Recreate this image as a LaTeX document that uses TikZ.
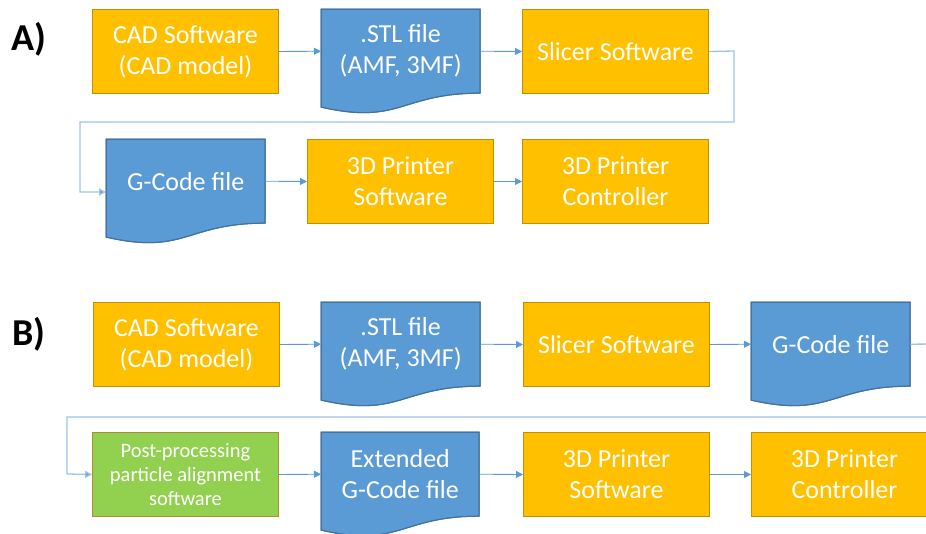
\documentclass[tikz,border=0pt]{standalone}
\usepackage{fontspec}
\setmainfont{Carlito}
\usetikzlibrary{arrows.meta,calc}
\definecolor{orgfill}{HTML}{FFC000}
\definecolor{orgline}{HTML}{BF9000}
\definecolor{bluefill}{HTML}{5B9BD5}
\definecolor{blueline}{HTML}{41719C}
\definecolor{grnfill}{HTML}{92D050}
\definecolor{grnline}{HTML}{B08D2A}
\definecolor{conn}{HTML}{5B9BD5}
\definecolor{retconn}{HTML}{9DC3E6}
\tikzset{
  maintext/.style={text=white, font=\fontsize{26}{31}\selectfont, align=center, inner sep=0pt},
  obox/.style={maintext, draw=orgline, fill=orgfill, line width=1pt, minimum width=186, minimum height=84, anchor=north west},
  gbox/.style={obox, draw=grnline, fill=grnfill, font=\fontsize{20.5}{24}\selectfont},
  docnode/.style={maintext, minimum height=84, anchor=north west},
  docshape/.style={fill=bluefill, draw=blueline, line width=1pt},
  arr/.style={draw=conn, line width=0.9pt, -{Triangle[length=7pt,width=7pt]}},
  ret/.style={draw=retconn, line width=1.3pt, -{Triangle[length=7pt,width=7pt,fill=conn]}},
  lbl/.style={font=\bfseries\fontsize{38}{40}\selectfont, inner sep=0pt, anchor=base},
}
\newcommand{\docnodecmd}[5]{%
  \fill[docshape] (#2,#3) -- ({#2+#4},#3) -- ({#2+#4},{#3+84.2})
    .. controls ({#2+#4/2},{#3+84.2}) and ({#2+#4/2},{#3+116.3}) .. (#2,{#3+98.1}) -- cycle;
  \draw[docshape, fill=none] (#2,#3) -- ({#2+#4},#3) -- ({#2+#4},{#3+84.2})
    .. controls ({#2+#4/2},{#3+84.2}) and ({#2+#4/2},{#3+116.3}) .. (#2,{#3+98.1}) -- cycle;
  \node[docnode, minimum width=#4] (#1) at (#2,#3) {#5};%
}
\begin{document}
\begin{tikzpicture}[x=1pt,y=-1pt]
\useasboundingbox (0,0) rectangle (926,533);
% labels
\node[lbl] (la) at (29,50) {A)};
\node[lbl] (lb) at (29,345) {B)};
% ---- A ----
\node[obox] (cadA) at (92,9) {CAD Software\\(CAD model)};
\docnodecmd{stlA}{321}{9}{159}{.STL file\\(AMF, 3MF)}
\node[obox] (slA) at (522,9) {Slicer Software};
\docnodecmd{gA}{106}{139}{159}{G-Code file}
\node[obox] (swA) at (307,139) {3D Printer\\Software};
\node[obox] (ctA) at (522,139) {3D Printer\\Controller};
\draw[arr] (cadA.east) -- (stlA.west);
\draw[arr] (stlA.east) -- (slA.west);
\draw[ret] (slA.east) -- (734,51) -- (734,122) -- (80,122) -- (80,192) -- ($(gA.north west)+(0,53)$);
\draw[arr] (gA.east) -- (swA.west);
\draw[arr] (swA.east) -- (ctA.west);
% ---- B ----
\node[obox] (cadB) at (93,302) {CAD Software\\(CAD model)};
\docnodecmd{stlB}{321}{302}{159}{.STL file\\(AMF, 3MF)}
\node[obox] (slB) at (523,302) {Slicer Software};
\docnodecmd{gB}{751}{302}{159}{G-Code file}
\node[gbox] (ppB) at (92,432) {Post-processing\\particle alignment\\software};
\docnodecmd{egB}{321}{432}{158}{Extended\\G-Code file}
\node[obox] (swB) at (523,432) {3D Printer\\Software};
\node[obox] (ctB) at (751,432) {3D Printer\\Controller};
\draw[arr] (cadB.east) -- (stlB.west);
\draw[arr] (stlB.east) -- (slB.west);
\draw[arr] (slB.east) -- (gB.west);
\draw[ret] (gB.east) -- (935,344) -- (935,417) -- (67,417) -- (67,474) -- (ppB.west);
\draw[arr] (ppB.east) -- (egB.west);
\draw[arr] (egB.east) -- (swB.west);
\draw[arr] (swB.east) -- (ctB.west);
\end{tikzpicture}
\end{document}
